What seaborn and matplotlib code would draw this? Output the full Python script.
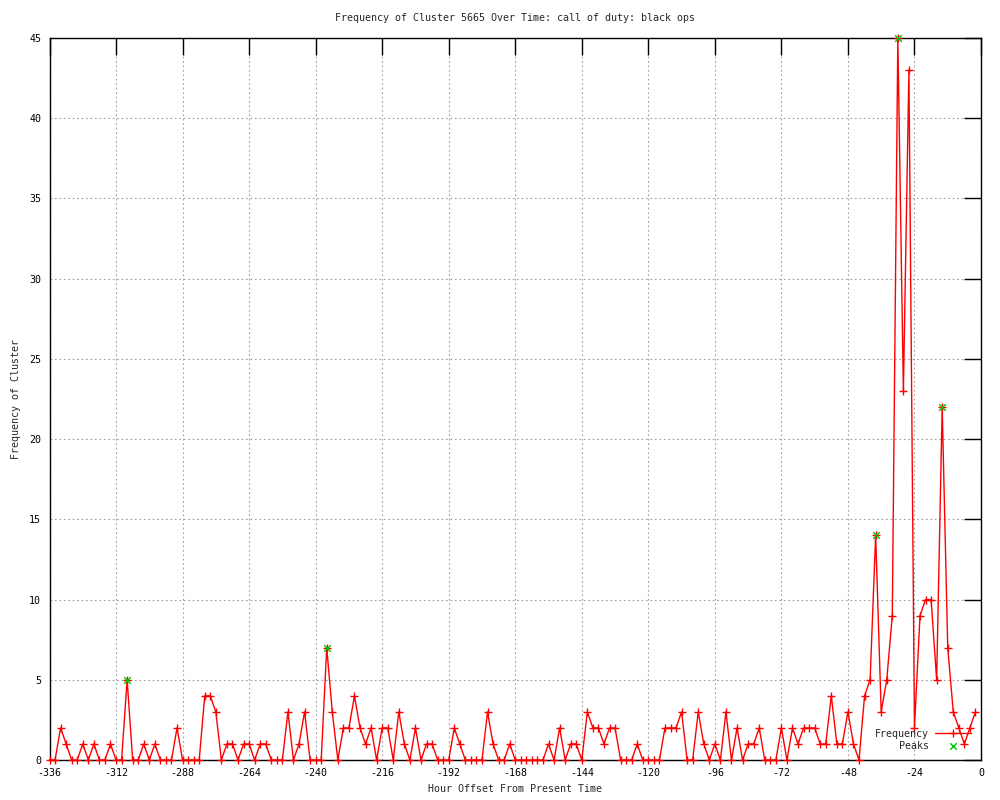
import numpy as np
import pandas as pd
import seaborn as sns
import matplotlib
matplotlib.use('Agg')
import matplotlib.pyplot as plt

# hour offsets, sampled every 2 hours
hours = list(range(-336, 0, 2))
freq = [
    0, 0, 2, 1, 0, 0, 1, 0, 1, 0, 0, 1,       # -336 .. -314
    0, 0, 5, 0, 0, 1, 0, 1, 0, 0, 0, 2,       # -312 .. -290
    0, 0, 0, 0, 4, 4, 3, 0, 1, 1, 0, 1,       # -288 .. -266
    1, 0, 1, 1, 0, 0, 0, 3, 0, 1, 3, 0,       # -264 .. -242
    0, 0, 7, 3, 0, 2, 2, 4, 2, 1, 2, 0,       # -240 .. -218
    2, 2, 0, 3, 1, 0, 2, 0, 1, 1, 0, 0,       # -216 .. -194
    0, 2, 1, 0, 0, 0, 0, 3, 1, 0, 0, 1,       # -192 .. -170
    0, 0, 0, 0, 0, 0, 1, 0, 2, 0, 1, 1,       # -168 .. -146
    0, 3, 2, 2, 1, 2, 2, 0, 0, 0, 1, 0,       # -144 .. -122
    0, 0, 0, 2, 2, 2, 3, 0, 0, 3, 1, 0,       # -120 .. -98
    1, 0, 3, 0, 2, 0, 1, 1, 2, 0, 0, 0,       # -96 .. -74
    2, 0, 2, 1, 2, 2, 2, 1, 1, 4, 1, 1,       # -72 .. -50
    3, 1, 0, 4, 5, 14, 3, 5, 9, 45, 23, 43,   # -48 .. -26
    2, 9, 10, 10, 5, 22, 7, 3, 2, 1, 2, 3,    # -24 .. -2
]
peak_hours = [-308, -236, -38, -30, -14]
peak_freq = [5, 7, 14, 45, 22]

x_ticks = list(range(-336, 1, 24))
y_ticks = list(range(0, 46, 5))

df = pd.DataFrame({'hour': hours, 'freq': freq})
peaks = pd.DataFrame({'hour': peak_hours, 'freq': peak_freq})

sns.set_style('white')
plt.rcParams['font.family'] = ['DejaVu Sans Mono']
plt.rcParams['axes.unicode_minus'] = False
fs = 7.2

fig = plt.figure(figsize = (10, 8), dpi = 100)
ax = fig.add_axes([0.0495, 0.05, 0.9315, 0.9025])

sns.lineplot(data = df, x = 'hour', y = 'freq', ax = ax, color = '#ff0000', linewidth = 1,
             marker = '+', markersize = 6, markeredgewidth = 1, markeredgecolor = '#ff0000',
             label = 'Frequency', zorder = 3, clip_on = False)
sns.scatterplot(data = peaks, x = 'hour', y = 'freq', ax = ax, color = '#00c000', marker = 'x',
                s = 22, linewidth = 1, label = 'Peaks', zorder = 4, clip_on = False)

ax.set_xlim(-336, 0)
ax.set_ylim(0, 45)
ax.set_xticks(x_ticks)
ax.set_yticks(y_ticks)
ax.tick_params(direction = 'in', length = 12, width = 1, labelsize = fs, top = True, right = True,
               colors = 'black', pad = 6)
ax.grid(True, linestyle = (0, (1.5, 2.5)), color = '#a0a0a0', linewidth = 0.8)
for s in ax.spines.values():
    s.set_color('black')
    s.set_linewidth(1)

ax.set_title('Frequency of Cluster 5665 Over Time: call of duty: black ops', fontsize = fs, pad = 12)
ax.set_xlabel('Hour Offset From Present Time', fontsize = fs, labelpad = 4)
ax.set_ylabel('Frequency of Cluster', fontsize = fs, labelpad = 6)

ax.legend(loc = 'lower right', bbox_to_anchor = (0.997, 0.003), frameon = False, markerfirst = False,
          fontsize = fs, handlelength = 3.6, handletextpad = 0.6, labelspacing = 0.2, borderaxespad = 0.3)

plt.savefig('out.png', dpi = 100)
plt.close()
